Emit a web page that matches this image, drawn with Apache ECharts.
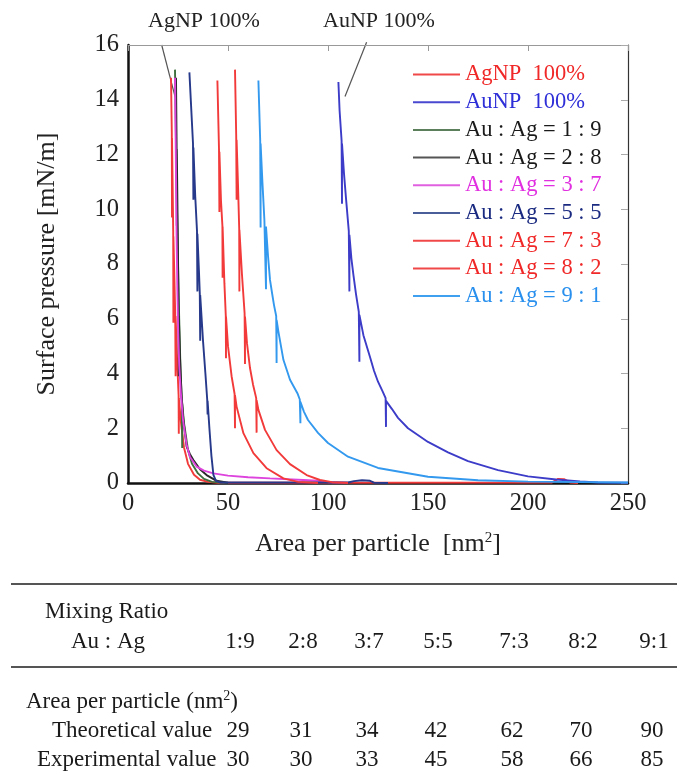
<!DOCTYPE html>
<html>
<head>
<meta charset="utf-8">
<script src="https://cdn.jsdelivr.net/npm/echarts@6/dist/echarts.min.js"></script>
<style>
html, body { margin: 0; padding: 0; background: #fff; }
#chart { width: 677px; height: 780px; }
</style>
</head>
<body>
<div id="chart"></div>
<script>
// isotherm curves, [area nm2, pressure mN/m] (left to right)
var agnp = [[21.5,14.8],[21.9,12.8],[22.0,9.7],[22.0,12.6],[22.3,11],[22.6,9.2],[22.7,5.85],[22.7,9.0],[23.2,7.5],[23.6,6.2],[23.8,3.9],[23.8,6.1],[24.5,4.6],[25.3,3.2],[25.4,1.8],[25.4,3.1],[26.5,2.2],[28,1.3],[30,0.7],[33,0.3],[36,0.12],[40,0.04],[45,0.01],[212,0.02],[215,0.15],[218,0.14],[221,0.02],[225,0]];
var aunp = [[105.2,14.65],[105.8,13.6],[106.8,12.5],[107,10.2],[107,12.4],[108,11.3],[109,10.4],[110.4,9.2],[110.7,7.0],[110.7,9.07],[111.7,8.2],[112.7,7.6],[114,6.9],[115.4,6.25],[115.7,4.43],[115.7,6.14],[117.7,5.4],[121,4.6],[123,4.1],[125,3.7],[127.3,3.35],[128.8,3.1],[129,2.05],[129,3.0],[132,2.7],[135,2.38],[140,2.0],[150,1.5],[160,1.12],[170,0.8],[185,0.47],[200,0.24],[214,0.13],[226,0.06],[235,0.02],[250,0.01]];
var r19 = [[23.5,15.1],[24,12.5],[24.5,10],[25,8],[25.6,6],[26.3,4],[26.9,3.0],[27.1,1.28],[27.1,2.9],[28,2.2],[30,1.2],[32,0.7],[35,0.35],[38,0.15],[42,0.04],[50,0]];
var r28 = [[24,14.8],[24.3,12.4],[24.4,9.4],[24.4,12.2],[24.9,9.0],[25.3,6.2],[25.4,3.9],[25.4,6.1],[26,4.6],[26.8,3.2],[27.7,2.3],[29.3,1.33],[31,1.05],[32.7,0.84],[36,0.5],[39.3,0.29],[44.3,0.08],[50,0.01]];
var r37 = [[23.5,14.8],[23.9,12],[24.3,9],[24.7,7],[25.1,5.5],[25.6,4.3],[26.4,3.3],[27.5,2.3],[29.3,1.4],[31,0.95],[34.3,0.6],[38,0.45],[42.7,0.35],[50,0.27],[60,0.21],[71,0.17],[85,0.12],[95,0.08],[100,0.03],[110,0]];
var r55 = [[30.7,15.0],[32.5,12.4],[32.7,10.35],[32.7,12.25],[33.6,10.5],[34.5,9.2],[34.7,7.0],[34.7,9.1],[35.5,7.7],[35.9,6.9],[36.1,5.2],[36.1,6.87],[37.5,5.2],[38.7,4.0],[39.6,3.05],[39.8,2.5],[39.8,3.0],[40.7,2.0],[41.7,1.0],[42.7,0.3],[44,0.08],[46,0.02],[110,0.02],[113,0.07],[117,0.1],[121,0.08],[123,0.01],[130,0]];
var r73 = [[44.7,14.7],[45.5,12.2],[45.7,9.9],[45.7,12.1],[46.5,10.3],[47.2,9.4],[47.3,7.5],[47.3,9.37],[48.2,7.3],[48.9,6.1],[49,4.56],[49,6.08],[50,5.0],[51.8,3.9],[53.3,3.25],[53.5,2.0],[53.5,3.2],[54.3,2.79],[57.7,1.82],[62.7,1.09],[69.3,0.54],[77.7,0.17],[85,0.04],[95,0]];
var r82 = [[53.5,15.1],[54.1,12.7],[54.3,10.35],[54.3,12.54],[55,10.9],[55.6,9.3],[55.7,7.0],[55.7,9.25],[57,7.6],[58.3,6.2],[58.5,4.35],[58.5,6.08],[59.5,5.1],[61,4.2],[62.5,3.6],[64.1,3.1],[64.3,1.84],[64.3,3.03],[65.2,2.67],[68.5,1.94],[74.3,1.2],[81,0.69],[89.3,0.29],[96,0.11],[102,0.03],[110,0]];
var r91 = [[65.2,14.7],[66.1,12.5],[66.3,9.33],[66.3,12.4],[67.2,11],[68.2,9.6],[69,7.08],[69,9.37],[70,8.3],[71,7.42],[72,6.95],[73,6.5],[74.1,6.1],[74.3,4.38],[74.3,5.96],[75.2,5.53],[77.7,4.5],[81,3.77],[84.7,3.28],[85.9,3.05],[86.2,2.18],[86.2,2.97],[88,2.6],[90,2.3],[95,1.83],[100,1.46],[110,0.96],[125,0.55],[150,0.23],[175,0.1],[200,0.05],[250,0.02]];

var seriesNames = ['AgNP  100%', 'AuNP  100%', 'Au : Ag = 1 : 9', 'Au : Ag = 2 : 8', 'Au : Ag = 3 : 7',
  'Au : Ag = 5 : 5', 'Au : Ag = 7 : 3', 'Au : Ag = 8 : 2', 'Au : Ag = 9 : 1'];
var seriesData = [agnp, aunp, r19, r28, r37, r55, r73, r82, r91];

// table under the chart
var ratioLabels = ['1:9', '2:8', '3:7', '5:5', '7:3', '8:2', '9:1'];
var theoretical = [29, 31, 34, 42, 62, 70, 90];
var experimental = [30, 30, 33, 45, 58, 66, 85];

var xTicks = [0, 50, 100, 150, 200, 250];
var yTicks = [0, 2, 4, 6, 8, 10, 12, 14, 16];

// styles
var lineColors = ['#f23a3a', '#3c3cc8', '#3f6f3f', '#2a2a2a', '#dd44dd', '#26398a', '#f23a3a', '#f23a3a', '#3399ee'];
var legendColors = ['#f04848', '#4848d0', '#5a7f5a', '#555555', '#e060e0', '#4a5f9a', '#f04848', '#f04848', '#40a0f0'];
var textColors = ['#f02828', '#2f2fd8', '#1a1a1a', '#1a1a1a', '#e030e0', '#1a2a80', '#f02828', '#f02828', '#2a90ee'];
var colX = [240, 303, 369, 438, 514, 583, 654];
var serif = 'Liberation Serif';

var chart = echarts.init(document.getElementById('chart'));

var series = seriesData.map(function (d, i) {
  return {
    name: seriesNames[i],
    type: 'line',
    data: d,
    symbol: 'none',
    showSymbol: false,
    color: legendColors[i],
    lineStyle: { width: 1.9, color: lineColors[i] },
    z: 2,
    animation: false
  };
});

chart.setOption({
  animation: false,
  grid: { left: 128, top: 45, width: 500, height: 438 },
  legend: {
    orient: 'vertical',
    left: 408,
    top: 58,
    itemWidth: 47,
    itemHeight: 2,
    icon: 'rect',
    itemGap: 4.7,
    textStyle: { fontFamily: serif, fontSize: 22.5 },
    data: seriesNames.map(function (n, i) {
      return { name: n, textStyle: { color: textColors[i] } };
    })
  },
  xAxis: [{
    type: 'value', min: 0, max: 250, interval: 50,
    name: 'Area per particle  [nm{s|2}]',
    nameLocation: 'middle', nameGap: 48,
    nameTextStyle: { fontFamily: serif, fontSize: 26, color: '#222',
      rich: { s: { fontFamily: serif, fontSize: 15, verticalAlign: 'top', color: '#222', padding: [0, 0, 11, 0] } } },
    axisLine: { show: true, onZero: false, lineStyle: { color: '#111', width: 2.5 } },
    axisTick: { show: false },
    axisLabel: { fontFamily: serif, fontSize: 24.5, color: '#222', margin: 8,
      formatter: function (v) { return xTicks.indexOf(v) >= 0 ? v : ''; } },
    splitLine: { show: false }
  }, {
    type: 'value', min: 0, max: 250, interval: 50, position: 'top',
    axisLine: { show: true, onZero: false, lineStyle: { color: '#999', width: 1 } },
    axisTick: { show: true, inside: true, length: 6, lineStyle: { color: '#999' } },
    axisLabel: { show: false },
    splitLine: { show: false }
  }],
  yAxis: [{
    type: 'value', min: 0, max: 16, interval: 2,
    name: 'Surface pressure [mN/m]',
    nameLocation: 'middle', nameGap: 68, nameRotate: 90,
    nameTextStyle: { fontFamily: serif, fontSize: 26, color: '#222' },
    axisLine: { show: true, onZero: false, lineStyle: { color: '#111', width: 2.5 } },
    axisTick: { show: false },
    axisLabel: { fontFamily: serif, fontSize: 24.5, color: '#222', margin: 9,
      formatter: function (v) { return yTicks.indexOf(v) >= 0 ? v : ''; } },
    splitLine: { show: false }
  }, {
    type: 'value', min: 0, max: 16, interval: 2, position: 'right',
    axisLine: { show: true, onZero: false, lineStyle: { color: '#333', width: 1.2 } },
    axisTick: { show: true, inside: true, length: 7, lineStyle: { color: '#aaa' } },
    axisLabel: { show: false },
    splitLine: { show: false }
  }],
  series: series
});

// annotations above the plot, placed through the axes
function px(p) { return chart.convertToPixel({ gridIndex: 0 }, p); }
var graphics = [];
[['AgNP 100%', [38, 16.86], [16.85, 16.0], [23.5, 14.12]],
 ['AuNP 100%', [125.5, 16.86], [119.3, 16.1], [108.5, 14.12]]].forEach(function (a) {
  var t = px(a[1]), p1 = px(a[2]), p2 = px(a[3]);
  graphics.push({ type: 'text', x: t[0], y: t[1],
    style: { text: a[0], fontFamily: serif, fontSize: 22, fill: '#222', align: 'center', verticalAlign: 'middle' } });
  graphics.push({ type: 'line', shape: { x1: p1[0], y1: p1[1], x2: p2[0], y2: p2[1] },
    style: { stroke: '#555', lineWidth: 1.2 } });
});

// table
var tf = { fontFamily: serif, fontSize: 23, fill: '#1a1a1a', verticalAlign: 'middle' };
function txt(s, x, y, align, extra) {
  var st = Object.assign({}, tf, { text: s, align: align || 'left' }, extra || {});
  graphics.push({ type: 'text', x: x, y: y, style: st });
}
graphics.push({ type: 'line', shape: { x1: 11, y1: 584, x2: 677, y2: 584 }, style: { stroke: '#555', lineWidth: 2 } });
graphics.push({ type: 'line', shape: { x1: 11, y1: 667, x2: 677, y2: 667 }, style: { stroke: '#555', lineWidth: 2 } });
txt('Mixing Ratio', 45, 612);
txt('Au : Ag', 71, 642);
ratioLabels.forEach(function (r, i) { txt(r, colX[i], 642, 'center'); });
txt('Area per particle (nm{s|2})', 26, 702, 'left',
  { rich: { s: { fontFamily: serif, fontSize: 14, fill: '#1a1a1a', verticalAlign: 'top', padding: [0, 0, 11, 0] } } });
txt('Theoretical value', 52, 731);
theoretical.forEach(function (v, i) { txt(String(v), colX[i] - 2, 731, 'center'); });
txt('Experimental value', 37, 760);
experimental.forEach(function (v, i) { txt(String(v), colX[i] - 2, 760, 'center'); });

chart.setOption({ graphic: graphics });
</script>
</body>
</html>
